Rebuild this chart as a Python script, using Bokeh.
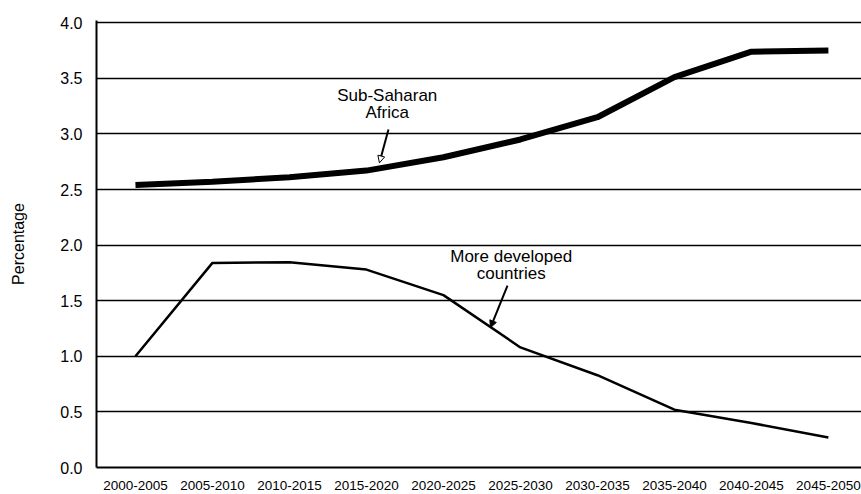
from bokeh.plotting import figure
from bokeh.models import Range1d, FixedTicker, Arrow, NormalHead
from bokeh.core.properties import value
from bokeh.embed import file_html
from bokeh.resources import INLINE

periods = ["2000-2005", "2005-2010", "2010-2015", "2015-2020", "2020-2025",
           "2025-2030", "2030-2035", "2035-2040", "2040-2045", "2045-2050"]
ssa = [2.54, 2.57, 2.61, 2.67, 2.79, 2.95, 3.15, 3.51, 3.74, 3.75]
mdc = [1.00, 1.84, 1.845, 1.78, 1.55, 1.08, 0.83, 0.52, 0.40, 0.27]
y_ticks = [0.0, 0.5, 1.0, 1.5, 2.0, 2.5, 3.0, 3.5, 4.0]

FONT = "Liberation Sans"
xs = list(range(len(periods)))

p = figure(width=861, height=494, output_backend="svg", toolbar_location=None,
           x_range=Range1d(-0.506, 9.43), y_range=Range1d(0, 4.02),
           min_border_left=96, min_border_right=0, min_border_top=20, min_border_bottom=27)
p.outline_line_color = None
p.background_fill_color = "white"

p.xgrid.visible = False
p.ygrid.ticker = FixedTicker(ticks=y_ticks)
p.ygrid.grid_line_color = "black"
p.ygrid.grid_line_width = 1.5

p.yaxis.ticker = FixedTicker(ticks=y_ticks)
p.yaxis.major_label_overrides = {t: f"{t:.1f}" for t in y_ticks}
p.yaxis.axis_line_width = 2
p.yaxis.major_tick_out = 0
p.yaxis.major_tick_in = 0
p.yaxis.minor_tick_out = 0
p.yaxis.minor_tick_in = 0
p.yaxis.major_label_standoff = 14
p.yaxis.major_label_text_font = FONT
p.yaxis.major_label_text_font_size = "16px"
p.yaxis.major_label_text_color = "black"
p.yaxis.axis_label = "Percentage"
p.yaxis.axis_label_text_font = FONT
p.yaxis.axis_label_text_font_style = "normal"
p.yaxis.axis_label_text_font_size = "16px"
p.yaxis.axis_label_text_color = "black"
p.yaxis.axis_label_standoff = 30

p.xaxis.ticker = FixedTicker(ticks=xs)
p.xaxis.major_label_overrides = {i: s for i, s in enumerate(periods)}
p.xaxis.axis_line_width = 2
p.xaxis.major_tick_out = 0
p.xaxis.major_tick_in = 0
p.xaxis.minor_tick_out = 0
p.xaxis.minor_tick_in = 0
p.xaxis.major_label_standoff = 13
p.xaxis.major_label_text_font = FONT
p.xaxis.major_label_text_font_size = "13.5px"
p.xaxis.major_label_text_color = "black"

p.line(xs, ssa, line_color="black", line_width=6)
p.line(xs, mdc, line_color="black", line_width=2.5)

# annotations
ann_font = "17px"
p.text(x=[3.27, 3.27], y=[3.35, 3.19], text=["Sub-Saharan", "Africa"],
       text_font=value(FONT), text_font_size=ann_font, text_align="center",
       text_baseline="middle", text_color="black")
p.text(x=[4.88, 4.88], y=[1.90, 1.745], text=["More developed", "countries"],
       text_font=value(FONT), text_font_size=ann_font, text_align="center",
       text_baseline="middle", text_color="black")

p.add_layout(Arrow(x_start=3.286, y_start=3.04, x_end=3.169, y_end=2.74,
                   line_width=2, line_color="black",
                   end=NormalHead(size=7, fill_color="white", line_color="black", line_width=1)))
p.add_layout(Arrow(x_start=4.832, y_start=1.636, x_end=4.611, y_end=1.258,
                   line_width=2, line_color="black",
                   end=NormalHead(size=7, fill_color="black", line_color="black", line_width=1)))

open("out.html", "w").write(file_html(p, INLINE))
